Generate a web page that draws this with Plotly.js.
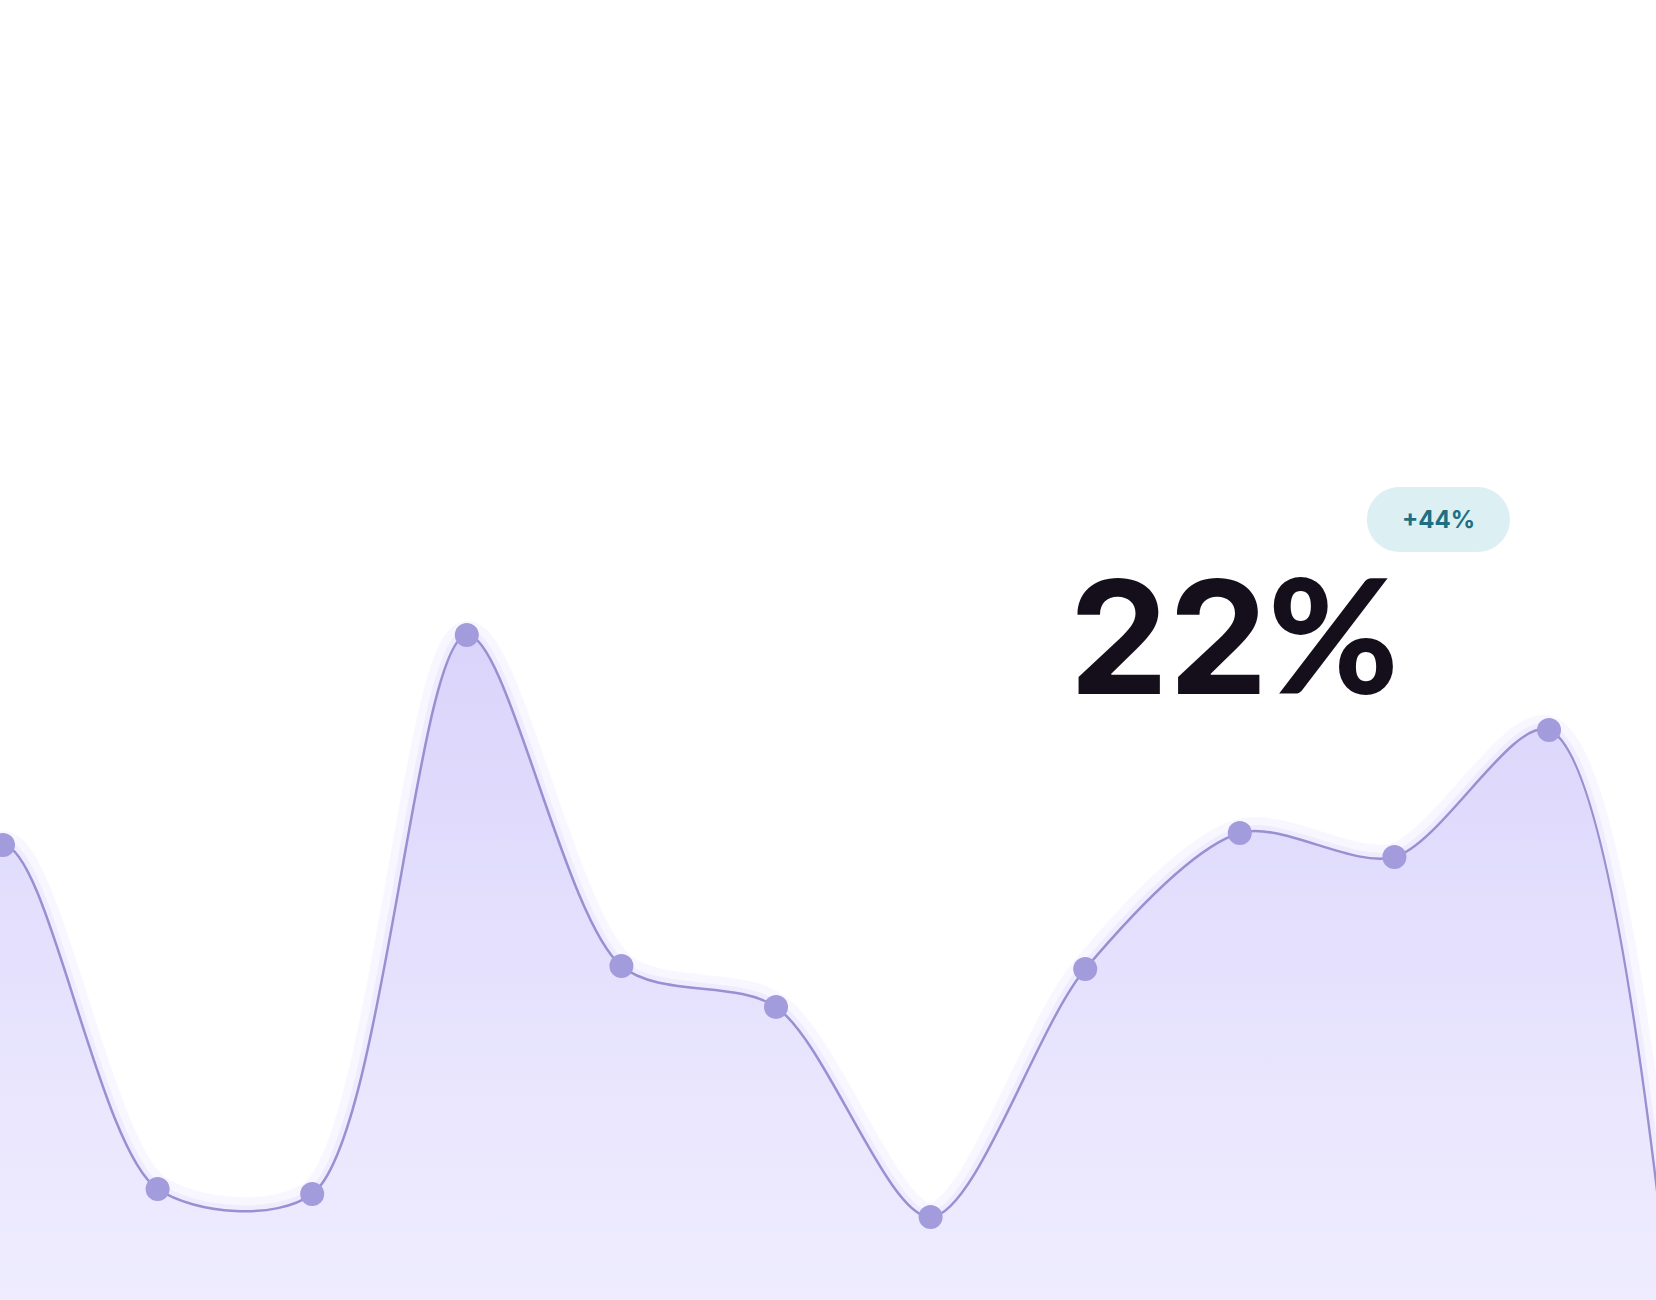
<!DOCTYPE html>
<html>
<head>
<meta charset="utf-8">
<script src="https://cdn.plot.ly/plotly-3.0.1.min.js"></script>
<style>
  html, body { margin: 0; padding: 0; background: #ffffff; }
  #chart { width: 1656px; height: 1300px; }
</style>
</head>
<body>
<div id="chart"></div>
<script>
// point index along the x axis (first and last sit just past the edges)
const pointIndex = [-1, 0, 1, 2, 3, 4, 5, 6, 7, 8, 9, 10, 11];
// series values
const values = [15.0, 45.5, 11.1, 10.6, 66.5, 33.4, 29.3, 8.3, 33.1, 46.7, 44.3, 57.0, -36.0];

const headline = "22";
const headlineUnit = "%";
const change = "+44%";

const LINE = "#9890d0";
const DOT = "#a39cdc";
const SMOOTH = 0.85;

// soft glow under the line
let glowWide = {
  x: pointIndex, y: values, type: "scatter", mode: "lines",
  line: {shape: "spline", smoothing: SMOOTH, color: "rgba(140,120,255,0.06)", width: 28},
  hoverinfo: "skip"
};
let glowNarrow = {
  x: pointIndex, y: values, type: "scatter", mode: "lines",
  line: {shape: "spline", smoothing: SMOOTH, color: "rgba(140,120,255,0.08)", width: 12},
  hoverinfo: "skip"
};

let area = {
  x: pointIndex, y: values, type: "scatter", mode: "lines+markers",
  fill: "tozeroy",
  fillgradient: {
    type: "vertical",
    colorscale: [[0, "#f6f5ff"], [0.5, "#ebe8fe"], [1, "#dad4fb"]]
  },
  line: {shape: "spline", smoothing: SMOOTH, color: LINE, width: 2.5},
  marker: {size: 24, color: DOT},
  hoverinfo: "skip"
};

// pill behind the change badge, in pixels round its anchor
let pill = "M -39,-32.5 L 39,-32.5 C 56.9,-32.5 71.5,-17.95 71.5,0 " +
  "C 71.5,17.95 56.9,32.5 39,32.5 L -39,32.5 C -56.9,32.5 -71.5,17.95 -71.5,0 " +
  "C -71.5,-17.95 -56.9,-32.5 -39,-32.5 Z";

let layout = {
  width: 1656, height: 1300,
  margin: {l: 0, r: 0, t: 0, b: 0},
  paper_bgcolor: "#ffffff", plot_bgcolor: "#ffffff",
  showlegend: false,
  xaxis: {range: [-0.0194, 10.692], visible: false, fixedrange: true},
  yaxis: {range: [0, 130], visible: false, fixedrange: true},
  shapes: [{
    type: "path", xref: "paper", yref: "paper",
    xsizemode: "pixel", ysizemode: "pixel",
    xanchor: 0.8686, yanchor: 0.6004,
    path: pill,
    fillcolor: "#dcf0f4", line: {width: 0}
  }],
  annotations: [
    {
      xref: "paper", yref: "paper", x: 0.6445, y: 0.5115,
      xanchor: "left", yanchor: "middle", showarrow: false,
      text: headline + "<span style='font-family:Lato;font-weight:900'>" + headlineUnit + "</span>",
      font: {family: "Inter, 'Noto Sans', sans-serif", size: 158, weight: 700, color: "#150f1c"}
    },
    {
      xref: "paper", yref: "paper", x: 0.8686, y: 0.6004,
      xanchor: "center", yanchor: "middle", showarrow: false,
      text: change,
      font: {family: "Inter, 'Noto Sans', sans-serif", size: 24, weight: 700, color: "#1d6f82"}
    }
  ]
};

Plotly.newPlot("chart", [glowWide, glowNarrow, area], layout, {staticPlot: true, displayModeBar: false});
</script>
</body>
</html>
